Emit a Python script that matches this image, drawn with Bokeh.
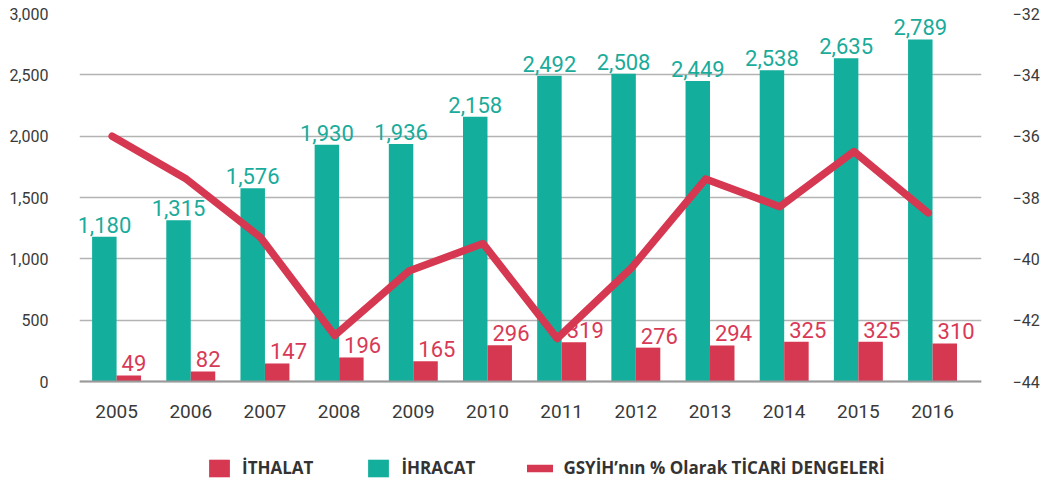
from bokeh.plotting import figure
from bokeh.models import (ColumnDataSource, Range1d, LinearAxis, FixedTicker,
                          NumeralTickFormatter, Legend, LegendItem)
from bokeh.core.properties import value
from bokeh.embed import file_html
from bokeh.resources import INLINE

years = [2005, 2006, 2007, 2008, 2009, 2010, 2011, 2012, 2013, 2014, 2015, 2016]
ihracat = [1180, 1315, 1576, 1930, 1936, 2158, 2492, 2508, 2449, 2538, 2635, 2789]
ithalat = [49, 82, 147, 196, 165, 296, 319, 276, 294, 325, 325, 310]
denge = [-36.0, -37.4, -39.3, -42.5, -40.4, -39.5, -42.6, -40.3, -37.4, -38.3, -36.5, -38.5]
left_ticks = [0, 500, 1000, 1500, 2000, 2500, 3000]
right_ticks = [-44, -42, -40, -38, -36, -34, -32]
legend_labels = ["İTHALAT", "İHRACAT", "GSYİH’nın % Olarak TİCARİ DENGELERİ"]

TEAL = "#13ae9c"
RED = "#d63851"
TEAL_TXT = "#1aab9b"
RED_TXT = "#d83a56"
AXIS_TXT = "#3a3a3a"

# the plot frame extends to the bottom of the page so that the legend can sit
# inside it; the value axis starts below zero accordingly
W, H, TOP = 1049, 486, 13
ZERO_PX = 381
frac = (H - TOP) / (ZERO_PX - TOP)
y_start = 3000 - 3000 * frac
pct_start = -32 - 12 * frac

BW = 0.33
src = ColumnDataSource(dict(
    year=years,
    teal_x=[y - BW / 2 for y in years],
    red_x=[y + BW / 2 for y in years],
    red_left=[y for y in years],
    line_x=[y - 0.06 for y in years],
    ihracat=ihracat,
    ithalat=ithalat,
    ihracat_lbl=[f"{v:,}" for v in ihracat],
    ithalat_lbl=[f"{v:,}" for v in ithalat],
    denge=denge,
))

p = figure(width=W, height=H, output_backend="svg", toolbar_location=None,
           x_range=Range1d(2004.5, 2016.66), y_range=Range1d(y_start, 3000),
           min_border_left=79, min_border_right=68, min_border_top=TOP,
           min_border_bottom=0)
p.outline_line_color = None
p.background_fill_color = "white"
p.border_fill_color = "white"
p.extra_y_ranges = {"pct": Range1d(pct_start, -32)}

# grid
p.xgrid.visible = False
p.ygrid.ticker = FixedTicker(ticks=left_ticks)
p.ygrid.grid_line_color = "#b3b3b3"
p.ygrid.grid_line_width = 1.5

# axes
p.yaxis.ticker = FixedTicker(ticks=left_ticks)
p.yaxis.formatter = NumeralTickFormatter(format="0,0")
p.yaxis.axis_line_color = None
p.yaxis.major_tick_line_color = None
p.yaxis.minor_tick_line_color = None
p.yaxis.major_label_standoff = 25
p.yaxis.major_label_text_font = "Roboto"
p.yaxis.major_label_text_font_size = "16px"
p.yaxis.major_label_text_color = AXIS_TXT

p.xaxis.fixed_location = 0
p.xaxis.ticker = FixedTicker(ticks=years)
p.xaxis.axis_line_color = "#9a9a9a"
p.xaxis.axis_line_width = 2
p.xaxis.major_tick_line_color = None
p.xaxis.minor_tick_line_color = None
p.xaxis.major_label_standoff = 17
p.xaxis.major_label_text_font = "Roboto"
p.xaxis.major_label_text_font_size = "19px"
p.xaxis.major_label_text_color = AXIS_TXT

ry = LinearAxis(y_range_name="pct", ticker=FixedTicker(ticks=right_ticks))
ry.axis_line_color = None
ry.major_tick_line_color = None
ry.minor_tick_line_color = None
ry.major_label_standoff = 25
ry.major_label_text_font = "Roboto"
ry.major_label_text_font_size = "16px"
ry.major_label_text_color = AXIS_TXT
p.add_layout(ry, "right")

# bars
teal_r = p.vbar(x="teal_x", top="ihracat", width=BW, source=src,
                fill_color=TEAL, line_color=None)
red_r = p.vbar(x="red_x", top="ithalat", width=BW, source=src,
               fill_color=RED, line_color=None)

# labels
p.text(x="teal_x", y="ihracat", text="ihracat_lbl", source=src,
       text_align="center", text_baseline="bottom", y_offset=-4,
       text_font=value("Roboto"), text_font_size="22px", text_color=TEAL_TXT)
p.text(x="red_left", y="ithalat", text="ithalat_lbl", source=src,
       text_align="left", text_baseline="bottom", x_offset=5, y_offset=-4,
       text_font=value("Roboto"), text_font_size="22px", text_color=RED_TXT)

# line
line_r = p.line(x="line_x", y="denge", source=src, y_range_name="pct",
                line_color=RED, line_width=7.5, line_cap="round", line_join="round")

legend = Legend(items=[
    LegendItem(label=legend_labels[0], renderers=[red_r]),
    LegendItem(label=legend_labels[1], renderers=[teal_r]),
    LegendItem(label=legend_labels[2], renderers=[line_r]),
], orientation="horizontal", location=(127, 7))
legend.padding = 0
legend.margin = 0
legend.spacing = 52
legend.glyph_width = 26
legend.glyph_height = 22
legend.label_standoff = 10
legend.label_text_font = "Open Sans"
legend.label_text_font_style = "bold"
legend.label_text_font_size = "17px"
legend.label_text_color = "#333333"
legend.background_fill_alpha = 0
legend.border_line_alpha = 0
p.add_layout(legend, "center")

open("out.html", "w").write(file_html(p, INLINE))
